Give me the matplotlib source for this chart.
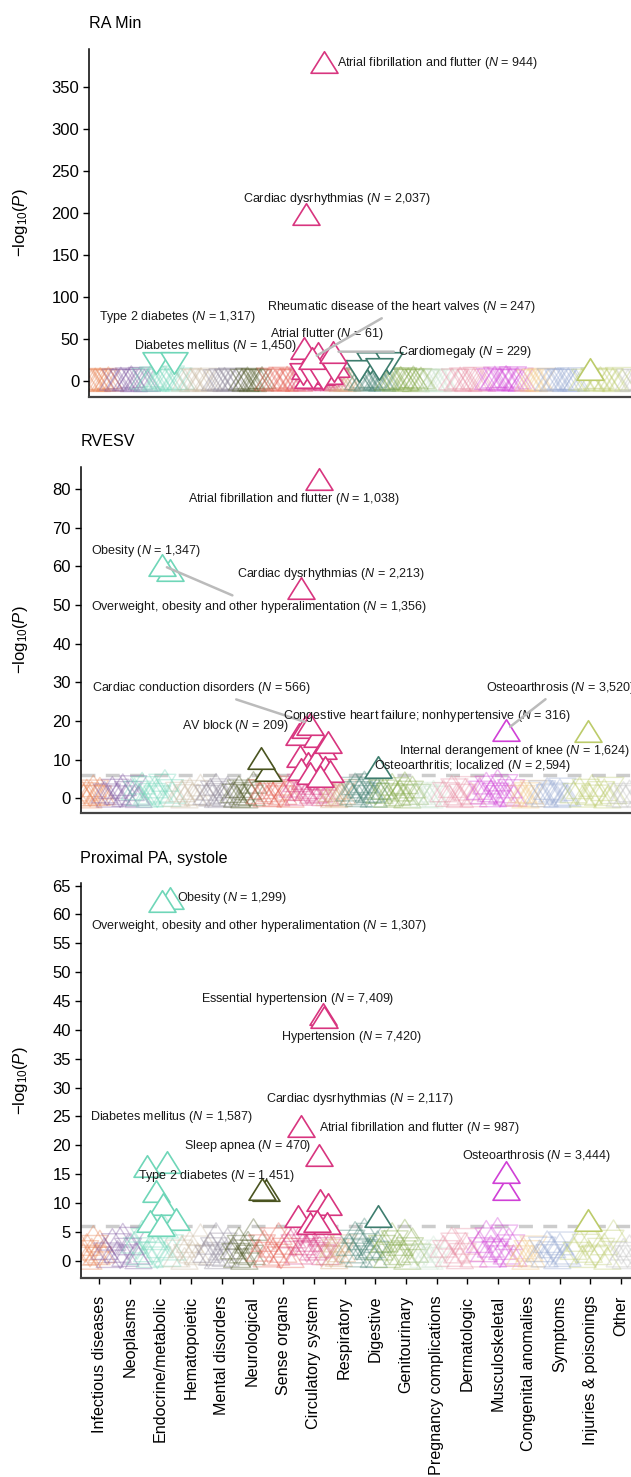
import matplotlib
matplotlib.use('Agg')
import matplotlib.pyplot as plt
from matplotlib.path import Path
import numpy as np

plt.rcParams['font.family'] = ['Liberation Sans', 'DejaVu Sans']
plt.rcParams['mathtext.fontset'] = 'custom'
plt.rcParams['mathtext.rm'] = 'Liberation Sans'
plt.rcParams['mathtext.it'] = 'Liberation Sans:italic'

# phenotype categories, colours and the phenotype-index band each one covers
categories = ['Infectious diseases', 'Neoplasms', 'Endocrine/metabolic', 'Hematopoietic',
              'Mental disorders', 'Neurological', 'Sense organs', 'Circulatory system',
              'Respiratory', 'Digestive', 'Genitourinary', 'Pregnancy complications',
              'Dermatologic', 'Musculoskeletal', 'Congenital anomalies', 'Symptoms',
              'Injuries & poisonings', 'Other']
cat_colors = ['#E8804F', '#7E57A0', '#6FD6B8', '#C9B8A0', '#8E8799', '#4A5420',
              '#E55B4D', '#D8357F', '#D4A373', '#3E7D6E', '#7BA33B', '#C9E3CF',
              '#E88AA0', '#D040D6', '#F0C27A', '#8FA3CF', '#BCCB6A', '#BDBDBD']
cat_start = [0, 21, 51, 93, 123, 150, 176, 209, 246, 266, 296, 340, 360, 396, 436, 456, 490, 536]
cat_end = [24, 61, 95, 123, 150, 176, 213, 250, 266, 300, 340, 360, 396, 436, 456, 490, 536, 552]

# ---------------- RA Min ----------------
ra_names = ['Atrial fibrillation and flutter', 'Cardiac dysrhythmias', 'Atrial flutter',
            'Rheumatic disease of the heart valves', 'Cardiomegaly', 'Diabetes mellitus',
            'Type 2 diabetes']
ra_n = ['944', '2,037', '61', '247', '229', '1,450', '1,317']
ra_x = [235, 217, 214.8, 223, 244, 66.7, 84.8]
ra_y = [380.6, 199.4, 39, 27, 35, 22, 22]
ra_cat = [7, 7, 7, 7, 7, 2, 2]
ra_dir = [1, 1, 1, 1, 1, -1, -1]
ra_hit_x = [229, 236, 216, 226, 232, 219, 240, 247, 214, 224, 234, 245, 281, 300, 270, 290, 500.5]
ra_hit_y = [33, 24, 15, 12, 8, 5, 10, 18, 8, 4, 2, 12, 22, 21, 12, 14, 14.3]
ra_hit_cat = [7] * 12 + [9] * 4 + [16]
ra_hit_dir = [1] * 8 + [-1] * 8 + [1]
ra_bg = ["1.2 -0.8 2.5 0.4 -1.6 3.1 0.9 -2.2 1.8 -0.5 4.0 0.6",
         "2.1 -1.4 0.7 3.6 -0.9 1.5 -2.8 5.2 0.3 -1.1 2.7 -3.4 1.0 0.5",
         "3.5 -2.2 1.1 6.0 -4.1 0.8 2.9 -1.3 4.4 -0.6 1.9 -5.0 2.4 0.5 -2.7 3.0",
         "0.9 -1.7 2.3 0.4 -0.8 1.6 3.0 -2.4 0.7 1.2",
         "1.4 -0.6 2.8 0.9 -1.9 3.3 0.5 -1.2 1.7 -2.6 0.8 2.2",
         "2.0 -1.0 0.6 3.8 -2.3 1.3 0.4 -1.6 2.6 -0.7 1.1 4.2",
         "1.8 -2.5 3.4 0.7 -1.2 2.2 -3.6 0.9 4.6 -0.5 1.4 -1.9 2.9 0.6",
         "3.9 -2.6 5.8 1.2 -4.4 2.7 6.5 -1.5 3.3 -5.7 1.8 4.9 -3.0 2.2 -0.9 7.1 1.0 -2.0",
         "1.1 -0.7 2.4 0.5 -1.8 3.0 0.8 -1.1 1.6 -2.5",
         "2.6 -3.3 1.4 4.7 -1.9 0.8 3.6 -2.7 5.4 -0.6 1.9 -4.5 2.2 0.7 -1.4 3.1",
         "1.9 -2.4 3.2 0.6 -1.3 4.5 -3.1 1.1 2.6 -0.8 5.0 0.4 -2.0 3.7 1.5 -1.0",
         "0.6 -0.9 1.5 0.3 -1.7 2.2 0.8 -0.4",
         "2.3 -1.5 0.9 3.8 -2.8 1.4 0.5 -1.0 2.9 -3.5 1.7 0.7",
         "3.1 -2.0 1.6 4.8 -3.7 2.4 0.8 -1.4 5.5 -0.7 2.0 -4.2 1.2 3.6 -2.5 0.9",
         "1.0 -0.6 2.1 0.4 -1.5 1.7 0.8 -2.3",
         "1.6 -2.1 0.7 3.1 -0.9 2.2 -1.4 0.5 2.7 -3.0 1.2 0.9",
         "2.0 -1.2 3.4 0.6 -2.6 1.5 4.1 -0.8 1.1 -1.9 2.8 0.4 -3.3 1.8",
         "0.8 -1.3 1.9 0.5 -0.7 2.4"]

# ---------------- RVESV ----------------
rv_names = ['Atrial fibrillation and flutter', 'Obesity',
            'Overweight, obesity and other hyperalimentation', 'Cardiac dysrhythmias',
            'Cardiac conduction disorders', 'Congestive heart failure; nonhypertensive',
            'AV block', 'Osteoarthrosis', 'Internal derangement of knee',
            'Osteoarthritis; localized']
rv_n = ['1,038', '1,347', '1,356', '2,213', '566', '316', '209', '3,520', '1,624', '2,594']
rv_x = [238.2, 89.3, 81.3, 220.1, 229.5, 247.5, 180.2, 425.3, 507.8, 297.4]
rv_y = [82.6, 59.0, 60.3, 54.5, 19.3, 14.6, 10.5, 17.6, 17.3, 8.2]
rv_cat = [7, 2, 2, 7, 7, 7, 5, 13, 16, 9]
rv_dir = [1] * 10
rv_hit_x = [187.8, 218, 224, 236, 242, 219, 227, 235, 244, 220, 249, 229, 239]
rv_hit_y = [7.4, 16.5, 18.5, 16, 13, 11, 9, 10, 8, 7.5, 7, 6.5, 5.8]
rv_hit_cat = [5] + [7] * 12
rv_hit_dir = [1] * 13
rv_bg = ["0.8 -1.2 2.1 0.3 -0.6 1.5 3.2 -1.9 0.9 -0.4 2.6 1.1",
         "1.6 -0.9 0.5 2.8 -2.1 1.2 -0.4 3.5 0.7 -1.5 2.2 -3.0 1.0 0.4",
         "2.4 -1.6 0.9 3.9 -2.8 1.3 0.5 -1.0 2.9 -0.4 1.8 -3.4 4.6 0.7 -2.0 1.5",
         "0.6 -1.3 1.9 0.3 -0.7 2.5 1.1 -1.8 0.9 3.4",
         "1.2 -0.5 2.3 0.8 -1.6 3.6 0.4 -1.0 1.5 -2.2 0.7 2.9",
         "1.7 -0.8 0.5 3.0 -1.9 1.1 0.3 -1.3 2.4 -0.6 0.9 4.1",
         "1.4 -2.0 2.7 0.6 -1.0 1.9 -2.9 0.8 3.6 -0.4 1.2 -1.5 2.3 0.5",
         "3.1 -2.0 4.5 1.0 -3.4 2.2 5.1 -1.2 2.7 -4.0 1.5 3.8 -2.4 1.8 -0.7 4.9 0.9 -1.6",
         "0.9 -0.5 2.0 0.4 -1.4 2.6 0.7 -0.9 1.3 -2.0",
         "2.1 -2.6 1.1 3.7 -1.5 0.6 2.9 -2.1 4.2 -0.5 1.6 -3.5 1.8 0.5 -1.1 2.5",
         "1.5 -1.9 2.6 0.5 -1.0 3.6 -2.5 0.9 2.1 -0.6 4.0 0.3 -1.6 2.9 1.2 -0.8",
         "0.5 -0.7 1.2 0.3 -1.3 1.8 0.6 -0.3",
         "1.9 -1.2 0.7 3.0 -2.2 1.1 0.4 -0.8 2.3 -2.8 1.4 0.6",
         "2.5 -1.6 1.3 3.9 -2.9 1.9 0.6 -1.1 4.7 -0.5 1.6 -3.3 1.0 2.9 -2.0 0.7",
         "0.8 -0.5 1.7 0.3 -1.2 1.4 0.6 -1.8",
         "1.3 -1.7 0.6 2.5 -0.7 1.8 -1.1 0.4 2.2 -2.4 1.0 0.7",
         "1.6 -1.0 2.7 0.5 -2.1 1.2 3.3 -0.6 0.9 -1.5 2.2 0.3 -2.6 1.4",
         "0.6 -1.0 1.5 0.4 -0.5 1.9"]

# ---------------- Proximal PA, systole ----------------
pa_names = ['Obesity', 'Overweight, obesity and other hyperalimentation',
            'Essential hypertension', 'Hypertension', 'Cardiac dysrhythmias',
            'Atrial fibrillation and flutter', 'Diabetes mellitus', 'Type 2 diabetes',
            'Sleep apnea', 'Osteoarthrosis']
pa_n = ['1,299', '1,307', '7,409', '7,420', '2,117', '987', '1,587', '1,451', '470', '3,444']
pa_x = [89.3, 81.3, 242.2, 243.8, 220.1, 238.2, 86.1, 66, 181.5, 425.7]
pa_y = [62.8, 62.3, 42.7, 42.3, 23.3, 18.4, 17.1, 16.4, 12.5, 15.4]
pa_cat = [2, 2, 7, 7, 7, 7, 2, 2, 5, 13]
pa_dir = [1] * 10
pa_hit_x = [75.2, 82.9, 69.2, 95, 80.5, 185.1, 217.3, 239.4, 247.9, 229.4, 246.3, 236, 297.4, 425.7, 507.8]
pa_hit_y = [12.1, 9.8, 6.9, 7.3, 6.2, 12.3, 7.8, 10.6, 9.9, 6.6, 6.5, 6.8, 7.8, 12.4, 7.1]
pa_hit_cat = [2] * 5 + [5] + [7] * 6 + [9, 13, 16]
pa_hit_dir = [1] * 15
pa_bg = ["1.1 -1.6 2.8 0.4 -0.8 2.0 4.2 -2.5 1.2 -0.5 3.4 1.5",
         "2.1 -1.2 0.7 3.7 -2.8 1.6 -0.5 4.6 0.9 -2.0 2.9 -3.9 1.3 0.5",
         "3.2 -2.1 1.2 5.1 -3.7 1.7 0.7 -1.3 3.8 -0.5 2.4 -4.5 5.8 0.9 -2.6 2.0",
         "0.8 -1.7 2.5 0.4 -0.9 3.3 1.5 -2.4 1.2 4.5",
         "1.6 -0.7 3.0 1.1 -2.1 4.7 0.5 -1.3 2.0 -2.9 0.9 3.8",
         "2.2 -1.1 0.7 3.9 -2.5 1.5 0.4 -1.7 3.2 -0.8 1.2 5.4",
         "1.8 -2.6 3.5 0.8 -1.3 2.5 -3.8 1.1 4.7 -0.5 1.6 -2.0 3.0 0.7",
         "4.1 -2.6 5.2 1.3 -4.5 2.9 5.7 -1.6 3.5 -5.2 2.0 5.0 -3.2 2.4 -0.9 4.4 1.2 -2.1",
         "1.2 -0.7 2.6 0.5 -1.8 3.4 0.9 -1.2 1.7 -2.6",
         "2.8 -3.4 1.5 4.9 -2.0 0.8 3.8 -2.8 5.5 -0.7 2.1 -4.6 2.4 0.7 -1.5 3.3",
         "2.0 -2.5 3.4 0.7 -1.3 4.7 -3.3 1.2 2.8 -0.8 5.3 0.4 -2.1 3.8 1.6 -1.0",
         "0.7 -0.9 1.6 0.4 -1.7 2.4 0.8 -0.4",
         "2.5 -1.6 0.9 3.9 -2.9 1.5 0.5 -1.1 3.0 -3.7 1.8 0.8",
         "3.3 -2.1 1.7 5.1 -3.8 2.5 0.8 -1.5 5.6 -0.7 2.1 -4.3 1.3 3.8 -2.6 0.9",
         "1.0 -0.7 2.2 0.4 -1.6 1.8 0.8 -2.4",
         "1.7 -2.2 0.8 3.3 -0.9 2.4 -1.4 0.5 2.9 -3.1 1.3 0.9",
         "2.1 -1.3 3.5 0.7 -2.7 1.6 4.3 -0.8 1.2 -2.0 2.9 0.4 -3.4 5.2",
         "0.8 -1.3 2.0 0.5 -0.7 2.6"]

# label placement (offset in pixels from the point, alignment, leader line)
ra_labels = [(12.6, -1.6, 'left', False), (31, 14.7, 'center', False), (23, 14, 'center', False),
             (89.7, 51.6, 'center', True), (65, 0, 'left', True), (-22, 16.8, 'left', False),
             (-74.8, 45.8, 'left', False)]
rv_labels = [(-25, -20.3, 'center', False), (-23.8, 19.5, 'center', False), (97, -41.6, 'center', True),
             (29.8, 14, 'center', False), (-108, 35.4, 'center', True), (99, 25.8, 'center', False),
             (-25.7, 31.5, 'center', False), (-19.8, 42.6, 'left', True), (41.7, -19.6, 'right', False),
             (94.8, 1, 'center', False)]
pa_labels = [(7.2, 0, 'left', False), (97.2, -24.8, 'center', False), (-25, 15.6, 'center', False),
             (27.7, -20.4, 'center', False), (59, 27.3, 'center', False), (100.8, 27, 'center', False),
             (5.2, 44.7, 'center', False), (69.5, -9.6, 'center', False), (-14.7, 42.6, 'center', False),
             (30.6, 16, 'center', False)]

TRI_UP = Path([(-1, -0.8), (1, -0.8), (0, 0.8), (-1, -0.8)],
              [Path.MOVETO, Path.LINETO, Path.LINETO, Path.CLOSEPOLY])
TRI_DN = Path([(-1, 0.8), (1, 0.8), (0, -0.8), (-1, 0.8)],
              [Path.MOVETO, Path.LINETO, Path.LINETO, Path.CLOSEPOLY])
MS = 19.4

W, H = 631, 1477
fig = plt.figure(figsize=(W / 100, H / 100), dpi=100)


def make_axes(left, top, bottom):
    return fig.add_axes([left / W, 1 - bottom / H, 560 / W, (bottom - top) / H])


def draw_panel(ax, bg, names, ns, xs, ys, cats, dirs, labels,
               hx, hy, hcat, hdir, yticks, ylim, thresh=True):
    if thresh:
        ax.axhline(6, color='#CCCCCC', lw=2.5, ls=(0, (4, 3)), zorder=1)
    for ci, s in enumerate(bg):
        v = np.array([float(t) for t in s.split()])
        px = np.linspace(cat_start[ci] + 3, cat_end[ci] - 3, len(v))
        for mk, sel in ((TRI_UP, v >= 0), (TRI_DN, v < 0)):
            ax.scatter(px[sel], np.abs(v[sel]), marker=mk, s=MS ** 2, facecolors='none',
                       edgecolors=cat_colors[ci], alpha=0.35, linewidths=1.0, zorder=2)
    for x, y, c, d in zip(hx, hy, hcat, hdir):
        ax.scatter([x], [y], marker=TRI_UP if d > 0 else TRI_DN, s=MS ** 2, facecolors='white',
                   edgecolors=cat_colors[c], linewidths=1.2, zorder=3)
    for x, y, c, d in zip(xs, ys, cats, dirs):
        ax.scatter([x], [y], marker=TRI_UP if d > 0 else TRI_DN, s=MS ** 2, facecolors='white',
                   edgecolors=cat_colors[c], linewidths=1.2, zorder=4)
    for name, n, x, y, (dx, dy, ha, line) in zip(names, ns, xs, ys, labels):
        ap = dict(arrowstyle='-', color='#BBBBBB', lw=1.8, shrinkA=1, shrinkB=4) if line else None
        ax.annotate(f'{name} ($N$ = {n})', xy=(x, y), xytext=(dx, dy), textcoords='offset pixels',
                    ha=ha, va='center', fontsize=9, color='#1a1a1a', arrowprops=ap,
                    annotation_clip=False, zorder=6)
    ax.set_xlim(0, 560)
    ax.set_ylim(*ylim)
    ax.set_yticks(yticks)
    ax.tick_params(axis='y', labelsize=12, length=4, width=1, pad=3)
    for sp in ('top', 'right'):
        ax.spines[sp].set_visible(False)
    ax.spines['left'].set_linewidth(1.1)
    ax.spines['bottom'].set_linewidth(1.6)
    ax.spines['bottom'].set_color('#444444')


ax1 = make_axes(89, 49, 397)
draw_panel(ax1, ra_bg, ra_names, ra_n, ra_x, ra_y, ra_cat, ra_dir, ra_labels,
           ra_hit_x, ra_hit_y, ra_hit_cat, ra_hit_dir, np.arange(0, 351, 50), (-19, 395.6),
           thresh=False)
ax1.set_xticks([])

ax2 = make_axes(80.5, 466.7, 813.3)
draw_panel(ax2, rv_bg, rv_names, rv_n, rv_x, rv_y, rv_cat, rv_dir, rv_labels,
           rv_hit_x, rv_hit_y, rv_hit_cat, rv_hit_dir, np.arange(0, 81, 10), (-3.9, 85.75))
ax2.set_xticks([])

ax3 = make_axes(80.5, 882.7, 1278.3)
draw_panel(ax3, pa_bg, pa_names, pa_n, pa_x, pa_y, pa_cat, pa_dir, pa_labels,
           pa_hit_x, pa_hit_y, pa_hit_cat, pa_hit_dir, np.arange(0, 66, 5), (-3.05, 65.5))
ax3.set_xticks(18.5 + 30.7 * np.arange(len(categories)))
ax3.set_xticklabels(categories, rotation=90, fontsize=11.6)
ax3.tick_params(axis='x', length=4.5, width=1, pad=8)

for left, ty, cy, title in ((89, 24, 223, 'RA Min'), (80.5, 441.7, 640, 'RVESV'),
                            (80.5, 858.3, 1080.5, 'Proximal PA, systole')):
    fig.text(left / W, 1 - ty / H, title, fontsize=11.6, ha='left', va='center')
    fig.text(20 / W, 1 - cy / H, '\u2212log$_{10}$($P$)', rotation=90, fontsize=12,
             ha='center', va='center')

fig.savefig('out.png', dpi=100)
